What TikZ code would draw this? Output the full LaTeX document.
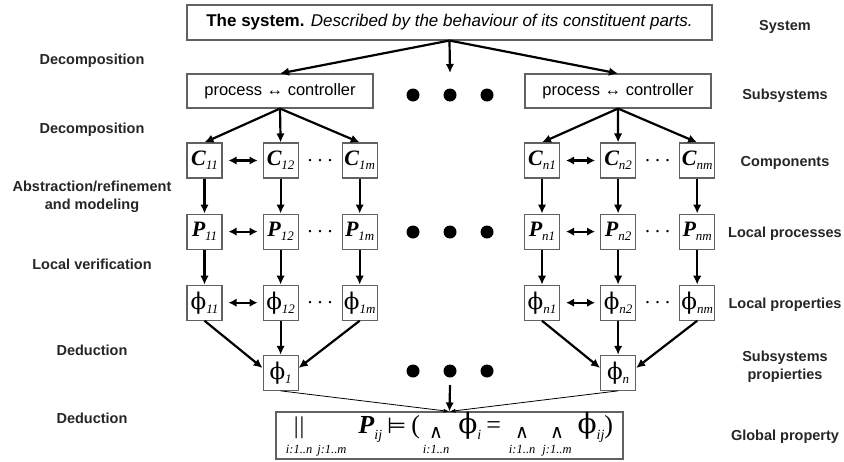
\documentclass[tikz,border=0pt]{standalone}
\usepackage{fontspec}
\setmainfont{Liberation Sans}
\newfontfamily\tms{Liberation Serif}
\newfontfamily\dvs{DejaVu Serif}
\newfontfamily\dejavu{DejaVu Sans}
\usepackage{xcolor}
\usepackage{tikz}
\usetikzlibrary{arrows.meta, positioning, calc}

\definecolor{boxline}{gray}{0.38}

% lowered index next to a cell symbol
\newcommand{\idx}[1]{\raisebox{-4pt}{\tms\fontsize{13}{13}\selectfont\itshape #1}}
\newcommand{\cvar}[2]{{\tms\fontsize{22}{24}\selectfont\bfseries\itshape #1}\idx{#2}}
\newcommand{\phisym}{{\dvs ϕ}}
\newcommand{\cphi}[1]{{\fontsize{23}{26}\selectfont\phisym}\idx{#1}}
% operator with its range set underneath
\newcommand{\under}[2]{{\def\arraystretch{0.7}\begin{tabular}[t]{@{}c@{}}#1\\{\fontsize{12.5}{13}\selectfont\itshape #2}\end{tabular}}}
\newcommand{\wedgeop}{\raisebox{-5pt}{\dejavu\fontsize{19}{19}\selectfont ∧}}
\newcommand{\parop}{{\tms\fontsize{24}{24}\selectfont |\hspace{1pt}|}}
\newcommand{\fidx}[1]{\raisebox{-6pt}{\fontsize{14}{14}\selectfont\itshape #1}}
\newcommand{\fphi}{{\dvs\fontsize{28}{28}\selectfont ϕ}}

\begin{document}
\begin{tikzpicture}[
  x=1pt, y=-1pt,
  node distance=35pt and 40pt,
  box/.style={rectangle, draw=boxline, line width=1.1pt, fill=white, inner sep=0pt},
  cell/.style={box, minimum width=35pt, minimum height=35pt},
  level/.style={font=\fontsize{14.5}{18}\selectfont\bfseries, text=black!85, align=center},
  line/.style={draw, line width=2.2pt, -{Latex[length=9pt,width=8.5pt]}},
  dline/.style={draw, line width=2.2pt, {Latex[length=8pt,width=8.5pt]}-{Latex[length=8pt,width=8.5pt]},
    shorten <=6pt, shorten >=5pt},
  thinline/.style={draw, line width=0.8pt, -{Latex[length=6pt,width=4pt]}},
  bigdot/.style={circle, fill=black, inner sep=0pt, minimum size=13pt},
  hdots/.style={font=\tms\fontsize{20}{20}\selectfont, inner sep=0pt}
]
  \useasboundingbox (0,0) rectangle (844,461);

  % system and subsystems
  \node [box, minimum width=525pt, minimum height=35pt] (sys) at (449.5,22.5)
    {\fontsize{17}{20}\selectfont\textbf{The system.} \textit{Described by the behaviour of its constituent parts.}};
  \node [box, minimum width=186pt, minimum height=34pt] (sub1) at (280,91)
    {\fontsize{16.5}{20}\selectfont process ↔ controller};
  \node [box, minimum width=186pt, minimum height=34pt] (subn) at (618,91)
    {\fontsize{16.5}{20}\selectfont process ↔ controller};
  \coordinate (subgap) at (450,73);
  \node [bigdot] (dotS1) at (413,95) {};
  \node [bigdot] (dotS2) at (450,95) {};
  \node [bigdot] (dotS3) at (487,95) {};

  % first subsystem
  \node [cell] (c11) at (204.5,160.5) {\cvar{C}{11}};
  \node [cell, right=40pt of c11] (c12) {\cvar{C}{12}};
  \node [cell, right=43pt of c12] (c1m) {\cvar{C}{1m}};
  \node [cell, below=of c11] (p11) {\cvar{P}{11}};
  \node [cell, below=of c12] (p12) {\cvar{P}{12}};
  \node [cell, below=of c1m] (p1m) {\cvar{P}{1m}};
  \node [cell, below=of p11] (phi11) {\cphi{11}};
  \node [cell, below=of p12] (phi12) {\cphi{12}};
  \node [cell, below=of p1m] (phi1m) {\cphi{1m}};
  \node [cell, below=34pt of phi12] (phi1) {\cphi{1}};

  % n-th subsystem
  \node [cell] (cn1) at (542,160.5) {\cvar{C}{n1}};
  \node [cell, right=40pt of cn1] (cn2) {\cvar{C}{n2}};
  \node [cell, right=43pt of cn2] (cnm) {\cvar{C}{nm}};
  \node [cell, below=of cn1] (pn1) {\cvar{P}{n1}};
  \node [cell, below=of cn2] (pn2) {\cvar{P}{n2}};
  \node [cell, below=of cnm] (pnm) {\cvar{P}{nm}};
  \node [cell, below=of pn1] (phin1) {\cphi{n1}};
  \node [cell, below=of pn2] (phin2) {\cphi{n2}};
  \node [cell, below=of pnm] (phinm) {\cphi{nm}};
  \node [cell, below=34pt of phin2] (phin) {\cphi{n}};

  % dots between columns
  \node [hdots] (dc1) at ($(c12.east)!0.5!(c1m.west)$) {.\hspace{5pt}.\hspace{5pt}.};
  \node [hdots] (dp1) at ($(p12.east)!0.5!(p1m.west)$) {.\hspace{5pt}.\hspace{5pt}.};
  \node [hdots] (dphi1) at ($(phi12.east)!0.5!(phi1m.west)$) {.\hspace{5pt}.\hspace{5pt}.};
  \node [hdots] (dcn) at ($(cn2.east)!0.5!(cnm.west)$) {.\hspace{5pt}.\hspace{5pt}.};
  \node [hdots] (dpn) at ($(pn2.east)!0.5!(pnm.west)$) {.\hspace{5pt}.\hspace{5pt}.};
  \node [hdots] (dphin) at ($(phin2.east)!0.5!(phinm.west)$) {.\hspace{5pt}.\hspace{5pt}.};

  % dots between subsystems
  \node [bigdot] (dotP1) at (413,232) {};
  \node [bigdot] (dotP2) at (450,232) {};
  \node [bigdot] (dotP3) at (487,232) {};
  \node [bigdot] (dotF1) at (413,371) {};
  \node [bigdot] (dotF2) at (450,371) {};
  \node [bigdot] (dotF3) at (487,371) {};
  \coordinate (phigap) at (450,385);

  % global property
  \node [box, minimum width=347pt, minimum height=47pt] (sum) at (449.5,435.5)
    {\tms\fontsize{26}{28}\selectfont
     \under{\parop}{i:1..n}\hspace{5pt}\under{}{j:1..m}\hspace{12pt}%
     {\bfseries\itshape P}\fidx{ij}\hspace{5pt}%
     {\dejavu\fontsize{22}{24}\selectfont ⊨}\hspace{5pt}(\hspace{3pt}%
     \under{\wedgeop}{i:1..n}\hspace{9pt}%
     \fphi\fidx{i}\hspace{5pt}=\hspace{8pt}%
     \under{\wedgeop}{i:1..n}\hspace{7pt}\under{\wedgeop}{j:1..m}\hspace{6pt}%
     \fphi\fidx{ij})};

  % labels on the left
  \node [level] (lvdec1) at (92,61) {Decomposition};
  \node [level] (lvdec2) at (92,130) {Decomposition};
  \node [level] (lvabs) at (92,197) {Abstraction/refinement\\and modeling};
  \node [level] (lvver) at (92,264) {Local verification};
  \node [level] (lvded1) at (92,350) {Deduction};
  \node [level] (lvded2) at (92,418) {Deduction};

  % labels on the right
  \node [level] (lvsys) at (785,27) {System};
  \node [level] (lvsub) at (785,96) {Subsystems};
  \node [level] (lvcomp) at (785,163) {Components};
  \node [level] (lvproc) at (785,234) {Local processes};
  \node [level] (lvprop) at (785,305) {Local properties};
  \node [level] (lvsubp) at (785,367) {Subsystems\\propierties};
  \node [level] (lvglob) at (785,437) {Global property};

  % decomposition
  \path [line] (sys.south) -- (sub1.north);
  \path [line] (sys.south) -- (subn.north);
  \path [line] (sys.south) -- (subgap);
  \path [line] (sub1.south) -- (c11.north);
  \path [line] (sub1.south) -- (c12.north);
  \path [line] (sub1.south) -- (c1m.north);
  \path [line] (subn.south) -- (cn1.north);
  \path [line] (subn.south) -- (cn2.north);
  \path [line] (subn.south) -- (cnm.north);

  % abstraction and local verification
  \path [line] (c11) -- (p11);
  \path [line] (c12) -- (p12);
  \path [line] (c1m) -- (p1m);
  \path [line] (p11) -- (phi11);
  \path [line] (p12) -- (phi12);
  \path [line] (p1m) -- (phi1m);
  \path [line] (cn1) -- (pn1);
  \path [line] (cn2) -- (pn2);
  \path [line] (cnm) -- (pnm);
  \path [line] (pn1) -- (phin1);
  \path [line] (pn2) -- (phin2);
  \path [line] (pnm) -- (phinm);

  % interaction between components
  \path [dline] (c11) -- (c12);
  \path [dline] (p11) -- (p12);
  \path [dline] (phi11) -- (phi12);
  \path [dline] (cn1) -- (cn2);
  \path [dline] (pn1) -- (pn2);
  \path [dline] (phin1) -- (phin2);

  % deduction
  \path [line] (phi11.south) -- (phi1.165);
  \path [line] (phi12.south) -- (phi1.north);
  \path [line] (phi1m.south) -- (phi1.15);
  \path [line] (phin1.south) -- (phin.165);
  \path [line] (phin2.south) -- (phin.north);
  \path [line] (phinm.south) -- (phin.15);
  \path [thinline] (phi1.south) -- (sum.north);
  \path [thinline] (phin.south) -- (sum.north);
  \path [line] (phigap) -- (sum.north);

\end{tikzpicture}
\end{document}
